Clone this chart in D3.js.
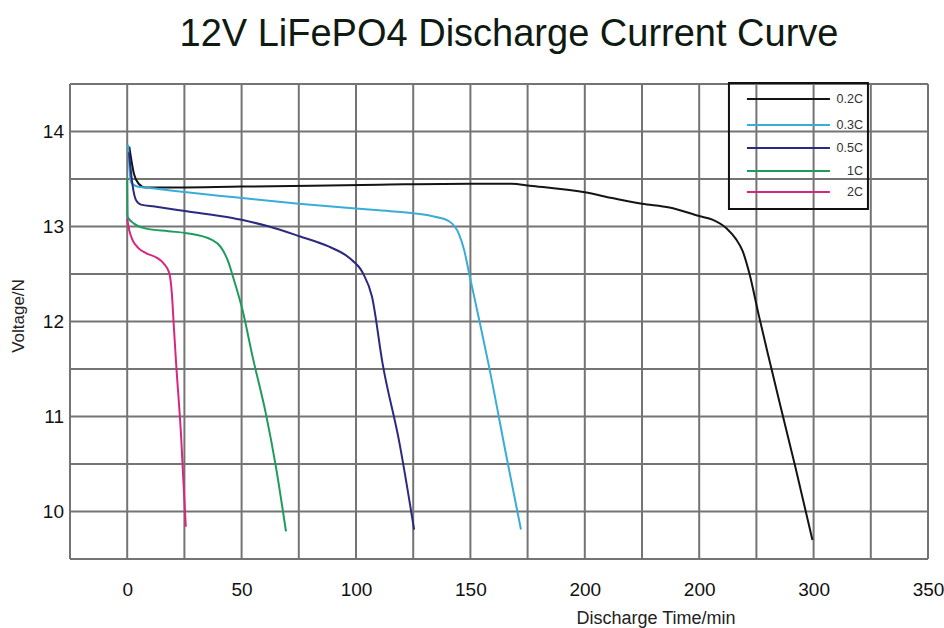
<!DOCTYPE html>
<html>
<head>
<meta charset="utf-8">
<script src="https://cdn.jsdelivr.net/npm/d3@7"></script>
<style>
  body { margin: 0; background: #fff; }
  text { font-family: "Liberation Sans", Arial, sans-serif; }
</style>
</head>
<body>
<svg></svg>
<script>
// DATA ////////////////////////////////////////////////////////////////////////
const seriesNames = ['0.2C', '0.3C', '0.5C', '1C', '2C'];
const seriesColors = ['#141414', '#3aacd6', '#2b2a7e', '#1f9c5c', '#d8267f'];

// [time (min), voltage (V)]
const curve02C = [[0.9, 13.84], [3, 13.55], [5, 13.45], [8, 13.41], [50, 13.42], [110, 13.44],
  [150, 13.45], [168, 13.45], [176, 13.43], [200, 13.36], [212, 13.3], [225, 13.24], [237, 13.2],
  [250, 13.11], [256, 13.07], [262, 12.98], [266, 12.87], [269, 12.74], [272, 12.5], [276, 12.07],
  [280.5, 11.61], [285, 11.16], [292, 10.47], [299.5, 9.7]];
const curve03C = [[0.4, 13.86], [1.6, 13.47], [4.4, 13.42], [12, 13.4], [26, 13.36], [46, 13.31],
  [75, 13.24], [110, 13.17], [125, 13.14], [135, 13.1], [141, 13.05], [145, 12.92], [147.3, 12.75],
  [149.5, 12.5], [154, 12.0], [158.2, 11.52], [165.5, 10.61], [172.1, 9.81]];
const curve05C = [[0.8, 13.78], [2.3, 13.44], [3.8, 13.28], [6, 13.23], [12, 13.21], [26, 13.16],
  [46, 13.09], [50, 13.07], [62, 13.0], [75, 12.9], [88, 12.79], [97, 12.67], [103, 12.51],
  [107, 12.26], [111.6, 11.56], [119, 10.72], [125.4, 9.81]];
const curve1C = [[0, 13.5], [0.2, 13.1], [3, 13.03], [8, 12.98], [18, 12.95], [26, 12.93],
  [37, 12.86], [41, 12.78], [44, 12.64], [46.5, 12.45], [50.4, 12.12], [54.8, 11.63], [60.6, 11.03],
  [65, 10.47], [69.4, 9.79]];
const curve2C = [[0, 13.08], [1, 12.95], [2.3, 12.86], [5, 12.77], [8.2, 12.72], [13, 12.67],
  [16, 12.61], [18.4, 12.51], [19.5, 12.3], [20.5, 11.9], [21.3, 11.59], [23.5, 10.82], [25.6, 9.84]];

const xTickValues = [0, 50, 100, 150, 200, 250, 300, 350];
const xTickLabels = ['0', '50', '100', '150', '200', '200', '300', '350'];
const yTickValues = [10, 11, 12, 13, 14];

// SET PARAMETERS //////////////////////////////////////////////////////////////
const svg = d3.select('svg').attr('width', 944).attr('height', 628);
const margin = { top: 84, right: 16, bottom: 69, left: 70 };
const width = +svg.attr('width') - margin.left - margin.right;
const height = +svg.attr('height') - margin.top - margin.bottom;

const g = svg.append('g')
  .attr('transform', `translate(${margin.left},${margin.top})`);

const x = d3.scaleLinear().domain([-25, 350]).range([0, width]);
const y = d3.scaleLinear().domain([9.5, 14.5]).range([height, 0]);

const gridColor = '#747474';

// DRAW ///////////////////////////////////////////////////////////////////////
// grid
g.append('g')
  .selectAll('line')
  .data(d3.range(-25, 351, 25))
  .join('line')
  .attr('x1', d => x(d)).attr('x2', d => x(d))
  .attr('y1', 0).attr('y2', height)
  .attr('stroke', gridColor).attr('stroke-width', 2);

g.append('g')
  .selectAll('line')
  .data(d3.range(9.5, 14.51, 0.5))
  .join('line')
  .attr('x1', 0).attr('x2', width)
  .attr('y1', d => y(d)).attr('y2', d => y(d))
  .attr('stroke', gridColor).attr('stroke-width', 2);

// x axis labels
const xAxis = g.append('g')
  .attr('transform', `translate(0, ${height})`)
  .call(d3.axisBottom(x).tickValues(xTickValues).tickSize(0).tickPadding(24)
    .tickFormat((d, i) => xTickLabels[i]));
xAxis.select('.domain').remove();
xAxis.selectAll('text').attr('font-size', 19).attr('fill', '#111')
  .attr('font-family', '"Liberation Sans", Arial, sans-serif');

// y axis labels
const yAxis = g.append('g')
  .call(d3.axisLeft(y).tickValues(yTickValues).tickSize(0).tickPadding(6)
    .tickFormat(d3.format('d')));
yAxis.select('.domain').remove();
yAxis.selectAll('text').attr('font-size', 19).attr('fill', '#111')
  .attr('font-family', '"Liberation Sans", Arial, sans-serif');

// curves
const line = d3.line()
  .x(d => x(d[0]))
  .y(d => y(d[1]))
  .curve(d3.curveMonotoneX);

const curves = [curve02C, curve03C, curve05C, curve1C, curve2C];

g.selectAll('.curve')
  .data(curves)
  .join('path')
  .attr('class', 'curve')
  .attr('d', line)
  .attr('fill', 'none')
  .attr('stroke', (d, i) => seriesColors[i])
  .attr('stroke-width', 2);

// legend
const legend = g.append('g').attr('transform', `translate(${x(263)}, 0)`);
legend.append('rect')
  .attr('x', 0).attr('y', -1)
  .attr('width', 139).attr('height', 126)
  .attr('fill', 'none').attr('stroke', '#111').attr('stroke-width', 2);

const legendY = [15, 41, 64, 87, 108];
const items = legend.selectAll('.item')
  .data(seriesNames)
  .join('g')
  .attr('class', 'item')
  .attr('transform', (d, i) => `translate(0, ${legendY[i]})`);
items.append('line')
  .attr('x1', 18).attr('x2', 101)
  .attr('stroke', (d, i) => seriesColors[i]).attr('stroke-width', 2);
items.append('text')
  .attr('x', 134).attr('dy', '0.35em')
  .attr('text-anchor', 'end')
  .attr('font-size', 12.5)
  .attr('fill', '#333')
  .text(d => d);

// title
svg.append('text')
  .attr('x', 509).attr('y', 46)
  .attr('text-anchor', 'middle')
  .attr('font-size', 38)
  .attr('fill', '#0e1a12')
  .text('12V LiFePO4 Discharge Current Curve');

// axis titles
svg.append('text')
  .attr('x', 656).attr('y', 624)
  .attr('text-anchor', 'middle')
  .attr('font-size', 18)
  .attr('fill', '#222')
  .text('Discharge Time/min');

svg.append('text')
  .attr('transform', 'translate(24, 316) rotate(-90)')
  .attr('text-anchor', 'middle')
  .attr('font-size', 17)
  .attr('fill', '#222')
  .text('Voltage/N');
</script>
</body>
</html>
